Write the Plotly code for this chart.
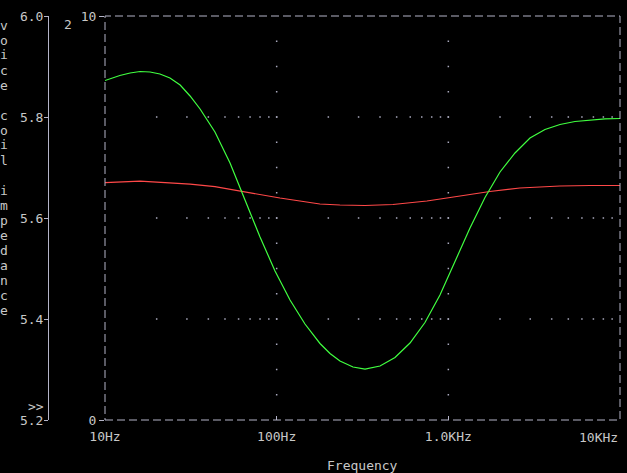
import math
import plotly.graph_objects as go

# ---- data ----
freq_red = [10, 16, 22.4, 31.3, 43.7, 61.1, 79.9, 104.5, 136.6, 178.6, 233.5, 326.7,
            475.6, 596, 750, 981, 1285, 1743, 2610, 4470, 6700, 10000]
red_vals = [5.670, 5.673, 5.670, 5.667, 5.662, 5.6535, 5.6455, 5.6396, 5.6337, 5.6277,
            5.6257, 5.6248, 5.6267, 5.6297, 5.6337, 5.6396, 5.6455, 5.6525, 5.6594,
            5.6634, 5.6644, 5.6644]

freq_green = [10, 12.2, 14.0, 16.0, 18.3, 20.9, 23.9, 27.4, 31.3, 35.8, 43.7, 53.5,
              65.4, 80.0, 97.8, 119.6, 146.2, 178.8, 204.5, 233.8, 278.4, 327.0,
              399.9, 489.0, 598.0, 731, 894, 1094, 1337, 1635, 2000, 2445, 2990,
              3656, 4471, 5467, 6686, 8176, 10000]
green_vals = [8.403, 8.527, 8.589, 8.626, 8.614, 8.564, 8.465, 8.292, 8.020, 7.698,
              7.129, 6.361, 5.446, 4.530, 3.688, 2.970, 2.376, 1.894, 1.646, 1.460,
              1.312, 1.262, 1.337, 1.547, 1.906, 2.413, 3.094, 3.911, 4.752, 5.507,
              6.139, 6.609, 6.980, 7.191, 7.314, 7.389, 7.431, 7.455, 7.463]

x_tick_vals = [10, 100, 1000, 10000]
x_tick_text = ["10Hz", "100Hz", "1.0KHz", "10KHz"]
y1_tick_vals = [5.2, 5.4, 5.6, 5.8, 6.0]
y1_tick_text = ["5.2", "5.4", "5.6", "5.8", "6.0"]
y2_tick_vals = [0, 10]
y2_tick_text = ["0", "10"]
y_title = "voice coil impedance"
x_title = "Frequency"

# ---- style ----
W, H = 627, 473
ML, MR, MT, MB = 0, 7, 16, 53
PW = W - ML - MR          # 620
PH = H - MT - MB          # 404
X0 = 105                  # left edge of plot frame (px)
AX1 = 48                  # position of axis 1 line (px)
TXT = "#c8c8c8"
GRID = "#a8a8bc"
FRAME = "#b4b4c8"
FONT = dict(family="DejaVu Sans Mono, monospace", size=13, color=TXT)

def px_x(px):
    return (px - ML) / PW

def px_y(py):
    return (H - MB - py) / PH

fig = go.Figure()

# grid dots derived from the tick lists
minor_x = [m * 10 ** k for k in range(1, 4) for m in range(2, 10)]
row_x, row_y = [], []
for yv in y1_tick_vals[1:-1]:
    for xv in minor_x + x_tick_vals[1:-1]:
        row_x.append(xv)
        row_y.append(yv)
minor_y = [round(5.2 + 0.05 * k, 3) for k in range(1, 16)]
for xv in x_tick_vals[1:-1]:
    for yv in minor_y:
        row_x.append(xv)
        row_y.append(yv)
fig.add_trace(go.Scatter(x=row_x, y=row_y, mode="markers", yaxis="y",
                         marker=dict(symbol="square", size=1.5, color=GRID, line=dict(width=0)),
                         hoverinfo="skip", showlegend=False))

fig.add_trace(go.Scatter(x=freq_red, y=red_vals, mode="lines", yaxis="y",
                         line=dict(color="#ff4848", width=1.2), showlegend=False))
fig.add_trace(go.Scatter(x=freq_green, y=green_vals, mode="lines", yaxis="y2",
                         line=dict(color="#40ff40", width=1.2), showlegend=False))

# the last x tick label is right-aligned to its tick (drawn as an annotation)
axis_tick_text = x_tick_text[:-1] + [""]

fig.update_layout(
    width=W, height=H,
    margin=dict(l=ML, r=MR, t=MT, b=MB, pad=0),
    paper_bgcolor="black", plot_bgcolor="black",
    font=FONT,
    showlegend=False,
    xaxis=dict(type="log", range=[1, 4], domain=[px_x(X0), 1], anchor="y2",
               tickvals=x_tick_vals, ticktext=axis_tick_text,
               ticks="inside", ticklen=4, tickcolor=FRAME, tickwidth=1,
               ticklabelstandoff=7,
               showgrid=False, zeroline=False, showline=False,
               tickfont=FONT, automargin=False, fixedrange=True),
    yaxis=dict(range=[5.2, 6.0], anchor="free", position=px_x(AX1), side="left",
               tickvals=y1_tick_vals, ticktext=y1_tick_text,
               ticks="outside", ticklen=4, tickcolor=FRAME, tickwidth=1,
               ticklabelstandoff=-2,
               showline=True, linecolor=FRAME, linewidth=1,
               showgrid=False, zeroline=False, tickfont=FONT,
               automargin=False, fixedrange=True),
    yaxis2=dict(range=[0, 10], overlaying="y", anchor="x", side="left",
                tickvals=y2_tick_vals, ticktext=y2_tick_text,
                ticks="outside", ticklen=5, tickcolor=FRAME, tickwidth=1,
                showline=False, showgrid=False, zeroline=False, tickfont=FONT,
                automargin=False, fixedrange=True),
)

# dashed frame
fig.add_shape(type="rect", xref="paper", yref="paper",
              x0=px_x(X0), x1=1, y0=0, y1=1,
              line=dict(color=FRAME, width=1, dash="8px,4px"), layer="above")

ann = []
for i, ch in enumerate(y_title):
    if ch.strip():
        ann.append(dict(text=ch, x=px_x(4), y=px_y(25 + 15 * i), xref="paper", yref="paper",
                        showarrow=False, xanchor="center", yanchor="middle", font=FONT))
ann.append(dict(text="2", x=px_x(68), y=px_y(24), xref="paper", yref="paper",
                showarrow=False, xanchor="center", yanchor="middle", font=FONT))
ann.append(dict(text="&gt;&gt;", x=px_x(36), y=px_y(406), xref="paper", yref="paper",
                showarrow=False, xanchor="center", yanchor="middle", font=FONT))
ann.append(dict(text=x_tick_text[-1], x=math.log10(x_tick_vals[-1]), y=px_y(437),
                xref="x", yref="paper", showarrow=False, xanchor="right",
                yanchor="middle", font=FONT))
ann.append(dict(text=x_title, x=px_x((X0 + 620) / 2), y=px_y(465), xref="paper", yref="paper",
                showarrow=False, xanchor="center", yanchor="middle", font=FONT))
fig.update_layout(annotations=ann)

fig.write_html("out.html", config={"displayModeBar": False},
               post_script="document.body.style.margin='0';")
